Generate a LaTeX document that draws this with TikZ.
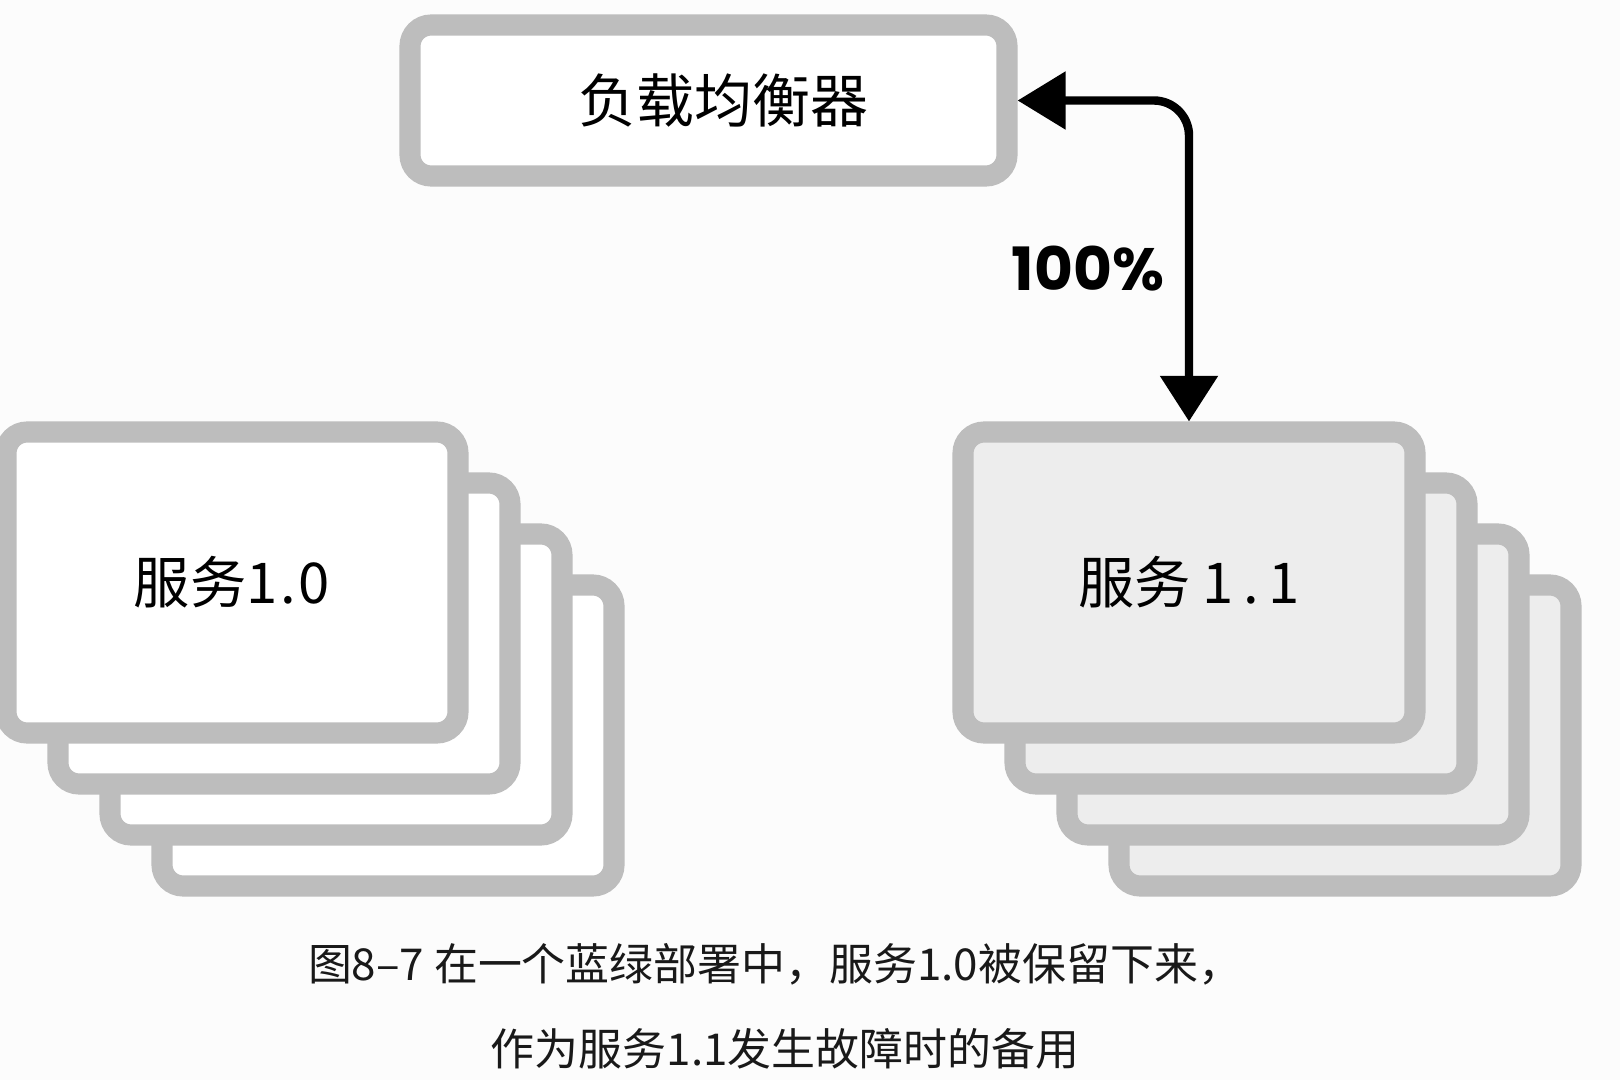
\documentclass[tikz,border=0pt]{standalone}
\usepackage{fontspec}
\setmainfont{Noto Sans CJK SC}
\newfontfamily\numfont{Poppins}
\usetikzlibrary{arrows.meta}
\definecolor{cardgray}{HTML}{BDBDBD}
\definecolor{cardfill}{HTML}{EDEDED}
\definecolor{bgwhite}{HTML}{FCFCFC}

\begin{document}
\begin{tikzpicture}[
    card/.style={draw=cardgray, line width=6pt, rounded corners=6pt,
      minimum width=4.52cm, minimum height=3.01cm, inner sep=0pt},
    lbbox/.style={draw=cardgray, line width=6pt, rounded corners=6pt,
      fill=white, minimum width=5.97cm, minimum height=1.51cm},
    boxtext/.style={font=\fontsize{16pt}{18pt}\selectfont},
    caption/.style={font=\fontsize{12.5pt}{15pt}\selectfont, text=black!90}
  ]
    % Page
    \fill[bgwhite] (0,0) rectangle (16.2,-10.8);
    \useasboundingbox (0,0) rectangle (16.2,-10.8);

    % Load balancer
    \node[lbbox, font=\fontsize{16.5pt}{18pt}\selectfont] (lb) at (7.085,-1.005) {\hspace*{0.3cm}负载均衡器};

    % Stack of version 1.0 instances
    \foreach \i in {3,2,1}
      \node[card, fill=white] (old\i) at (2.32+0.52*\i,-5.825-0.51*\i) {};
    \node[card, fill=white, boxtext] (old0) at (2.32,-5.825) {服务1\hspace{0.05em}.\hspace{0.05em}0};

    % Stack of version 1.1 instances
    \foreach \i in {3,2,1}
      \node[card, fill=cardfill] (new\i) at (11.89+0.52*\i,-5.825-0.51*\i) {};
    \node[card, fill=cardfill, boxtext] (new0) at (11.89,-5.825) {服务\hspace{0.2em}1\,.\,1};

    % All traffic goes to 1.1
    \draw[{Triangle[length=13.7pt,width=16pt]}-{Triangle[length=13pt,width=16pt]},
      line width=2.4pt, rounded corners=10pt] (lb.east) -| (new0.north);
    \node[font=\numfont\bfseries\fontsize{17pt}{19pt}\selectfont] (share) at (10.88,-2.69) {100\%};

    % Caption
    \node[caption] (cap1) at (7.75,-9.64) {图8–7 在一个蓝绿部署中，服务1.0被保留下来，};
    \node[caption] (cap2) at (7.85,-10.49) {作为服务1.1发生故障时的备用};
  \end{tikzpicture}
\end{document}
